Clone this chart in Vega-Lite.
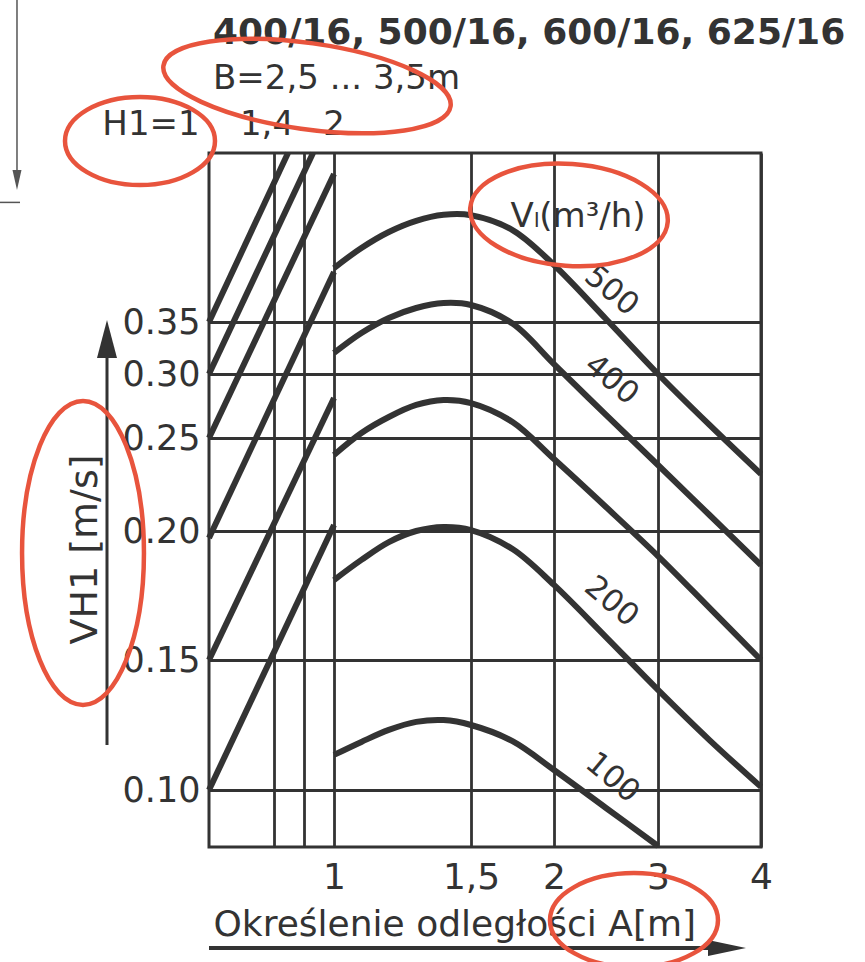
{
  "$schema": "https://vega.github.io/schema/vega-lite/v6.json",
  "width": 552,
  "height": 694,
  "autosize": {"type": "none"},
  "padding": {"left": 209, "top": 153, "right": 104, "bottom": 115},
  "background": "#ffffff",
  "config": {
    "font": "DejaVu Sans",
    "view": {"stroke": "#333333", "strokeWidth": 3},
    "axis": {"domain": false, "ticks": false, "tickSize": 0, "grid": true, "gridColor": "#333333", "gridWidth": 2.8, "gridOpacity": 1, "labelColor": "#333333", "titleColor": "#333333", "titleFontWeight": "normal", "labelFlush": false, "labelOverlap": false}
  },
  "datasets": {
    "curves": [
      {"Vl": 500, "A": 1, "V": 0.4045}, {"Vl": 500, "A": 1.1, "V": 0.4273}, {"Vl": 500, "A": 1.2, "V": 0.4455}, {"Vl": 500, "A": 1.3, "V": 0.459}, {"Vl": 500, "A": 1.4, "V": 0.4665}, {"Vl": 500, "A": 1.5, "V": 0.466}, {"Vl": 500, "A": 1.75, "V": 0.4477}, {"Vl": 500, "A": 2, "V": 0.408}, {"Vl": 500, "A": 2.5, "V": 0.353}, {"Vl": 500, "A": 3, "V": 0.30}, {"Vl": 500, "A": 3.5, "V": 0.2602}, {"Vl": 500, "A": 4, "V": 0.2306},
      {"Vl": 400, "A": 1, "V": 0.3202}, {"Vl": 400, "A": 1.1, "V": 0.3394}, {"Vl": 400, "A": 1.2, "V": 0.354}, {"Vl": 400, "A": 1.3, "V": 0.364}, {"Vl": 400, "A": 1.4, "V": 0.369}, {"Vl": 400, "A": 1.5, "V": 0.367}, {"Vl": 400, "A": 1.75, "V": 0.3485}, {"Vl": 400, "A": 2, "V": 0.3095}, {"Vl": 400, "A": 2.5, "V": 0.268}, {"Vl": 400, "A": 3, "V": 0.2355}, {"Vl": 400, "A": 3.5, "V": 0.2086}, {"Vl": 400, "A": 4, "V": 0.1868},
      {"Vl": 300, "A": 1, "V": 0.2409}, {"Vl": 300, "A": 1.1, "V": 0.2539}, {"Vl": 300, "A": 1.2, "V": 0.2664}, {"Vl": 300, "A": 1.3, "V": 0.2758}, {"Vl": 300, "A": 1.4, "V": 0.2797}, {"Vl": 300, "A": 1.5, "V": 0.2773}, {"Vl": 300, "A": 1.75, "V": 0.2625}, {"Vl": 300, "A": 2, "V": 0.2387}, {"Vl": 300, "A": 2.5, "V": 0.2129}, {"Vl": 300, "A": 3, "V": 0.1903}, {"Vl": 300, "A": 3.5, "V": 0.1702}, {"Vl": 300, "A": 4, "V": 0.15},
      {"Vl": 200, "A": 1, "V": 0.181}, {"Vl": 200, "A": 1.1, "V": 0.1888}, {"Vl": 200, "A": 1.2, "V": 0.1957}, {"Vl": 200, "A": 1.3, "V": 0.20}, {"Vl": 200, "A": 1.4, "V": 0.2022}, {"Vl": 200, "A": 1.5, "V": 0.2005}, {"Vl": 200, "A": 1.75, "V": 0.193}, {"Vl": 200, "A": 2, "V": 0.1791}, {"Vl": 200, "A": 2.5, "V": 0.1589}, {"Vl": 200, "A": 3, "V": 0.1385}, {"Vl": 200, "A": 3.5, "V": 0.1192}, {"Vl": 200, "A": 4, "V": 0.1012},
      {"Vl": 100, "A": 1, "V": 0.1135}, {"Vl": 100, "A": 1.1, "V": 0.1185}, {"Vl": 100, "A": 1.2, "V": 0.1231}, {"Vl": 100, "A": 1.3, "V": 0.1262}, {"Vl": 100, "A": 1.4, "V": 0.1269}, {"Vl": 100, "A": 1.5, "V": 0.125}, {"Vl": 100, "A": 1.75, "V": 0.1188}, {"Vl": 100, "A": 2, "V": 0.1077}, {"Vl": 100, "A": 2.5, "V": 0.0931}, {"Vl": 100, "A": 3, "V": 0.0785}
    ],
    "diagonals": [
      {"line": 1, "A": 0.5, "V": 0.10}, {"line": 1, "A": 1, "V": 0.2032},
      {"line": 2, "A": 0.5, "V": 0.15}, {"line": 2, "A": 1, "V": 0.2813},
      {"line": 3, "A": 0.5, "V": 0.1973}, {"line": 3, "A": 1, "V": 0.40},
      {"line": 4, "A": 0.5, "V": 0.25}, {"line": 4, "A": 1, "V": 0.52},
      {"line": 5, "A": 0.5, "V": 0.30}, {"line": 5, "A": 0.9125, "V": 0.55},
      {"line": 6, "A": 0.5, "V": 0.35}, {"line": 6, "A": 0.8083, "V": 0.55}
    ],
    "curveLabels": [
      {"Vl": 500, "A": 2.55, "V": 0.381},
      {"Vl": 400, "A": 2.55, "V": 0.2953},
      {"Vl": 200, "A": 2.55, "V": 0.1725},
      {"Vl": 100, "A": 2.56, "V": 0.1046}
    ],
    "heading": [{"A": 0.5154, "V": 0.7057, "text": "400/16, 500/16, 600/16, 625/16"}],
    "subheading": [{"A": 0.5154, "V": 0.6414, "text": "B=2,5 ... 3,5m"}],
    "h1Labels": [
      {"A": 0.277, "V": 0.5757, "text": "H1=1"},
      {"A": 0.723, "V": 0.5757, "text": "1,4"},
      {"A": 1.0, "V": 0.5757, "text": "2"}
    ],
    "vlLabel": [{"A": 2.231, "V": 0.4638, "text": "Vₗ(m³/h)"}],
    "yArrow": [{"A": 0.1077, "V": 0.1173, "V2": 0.3279}],
    "yHead": [{"A": 0.1077, "V": 0.3337}],
    "xArrow": [{"A": 0.5, "A2": 3.524, "V": 0.0393}],
    "xHead": [{"A": 3.67, "V": 0.0393}],
    "edgeLine": [{"A": -0.2385, "V": 0.7686, "V2": 0.5143}],
    "edgeHead": [{"A": -0.2385, "V": 0.5114}],
    "edgeTick": [{"A": -0.3038, "A2": -0.2269, "V": 0.482}],
    "callouts": [
      {"id": "B", "A": 0.8875, "V": 0.6457},
      {"id": "H1", "A": 0.2346, "V": 0.5671},
      {"id": "Vl", "A": 2.144, "V": 0.4663},
      {"id": "VH1", "A": 0.0154, "V": 0.1915},
      {"id": "Am", "A": 2.769, "V": 0.050}
    ]
  },
  "encoding": {
    "x": {
      "field": "A", "type": "quantitative",
      "scale": {"type": "linear", "domain": [0.5, 0.75, 0.875, 1, 1.5, 2, 3, 4], "range": [0, 65, 95, 125, 262, 345, 449, 552], "nice": false, "zero": false},
      "axis": {
        "values": [0.75, 0.875, 1, 1.5, 2, 3, 4],
        "format": "~g",
        "labelExpr": "datum.value < 1 ? '' : replace(datum.label, '.', ',')",
        "labelFontSize": 36, "labelPadding": 13,
        "title": "Określenie odległości A[m]", "titleFontSize": 36,
        "titleAnchor": "start", "titleAlign": "left", "titleX": 4, "titleY": 88, "titleBaseline": "alphabetic"
      }
    },
    "y": {
      "field": "V", "type": "quantitative",
      "scale": {"type": "linear", "domain": [0.0781, 0.10, 0.15, 0.20, 0.25, 0.30, 0.35, 0.40, 0.45, 0.50, 0.55], "range": [694, 637, 507, 378, 285, 221, 169, 119, 75, 35, 0], "nice": false, "zero": false},
      "axis": {
        "values": [0.10, 0.15, 0.20, 0.25, 0.30, 0.35],
        "format": ".2f",
        "labelFontSize": 35, "labelPadding": 9,
        "title": "VH1 [m/s]", "titleFontSize": 38,
        "titleAngle": -90, "titleAlign": "center", "titleBaseline": "alphabetic", "titleX": -113, "titleY": 396
      }
    }
  },
  "layer": [
    {
      "data": {"name": "curves"},
      "mark": {"type": "line", "interpolate": "catmull-rom", "color": "#333333", "strokeWidth": 6, "strokeCap": "butt"},
      "encoding": {"detail": {"field": "Vl", "type": "nominal"}}
    },
    {
      "data": {"name": "diagonals"},
      "mark": {"type": "line", "color": "#333333", "strokeWidth": 6, "strokeCap": "butt"},
      "encoding": {"detail": {"field": "line", "type": "nominal"}}
    },
    {
      "data": {"name": "curveLabels"},
      "mark": {"type": "text", "angle": 40, "fontSize": 31, "color": "#333333", "align": "center", "baseline": "middle"},
      "encoding": {"text": {"field": "Vl", "type": "nominal"}}
    },
    {
      "data": {"name": "heading"},
      "mark": {"type": "text", "fontSize": 36, "fontWeight": "bold", "color": "#333333", "align": "left", "baseline": "alphabetic"},
      "encoding": {"text": {"field": "text", "type": "nominal"}}
    },
    {
      "data": {"name": "subheading"},
      "mark": {"type": "text", "fontSize": 34, "color": "#333333", "align": "left", "baseline": "alphabetic"},
      "encoding": {"text": {"field": "text", "type": "nominal"}}
    },
    {
      "data": {"name": "h1Labels"},
      "mark": {"type": "text", "fontSize": 34, "color": "#333333", "align": "center", "baseline": "alphabetic"},
      "encoding": {"text": {"field": "text", "type": "nominal"}}
    },
    {
      "data": {"name": "vlLabel"},
      "mark": {"type": "text", "fontSize": 34, "color": "#333333", "align": "center", "baseline": "middle"},
      "encoding": {"text": {"field": "text", "type": "nominal"}}
    },
    {
      "data": {"name": "yArrow"},
      "mark": {"type": "rule", "color": "#333333", "strokeWidth": 3},
      "encoding": {"y2": {"field": "V2"}}
    },
    {
      "data": {"name": "yHead"},
      "mark": {"type": "point", "shape": "M0,-1L0.526,1L-0.526,1Z", "size": 1444, "filled": true, "opacity": 1, "color": "#333333", "strokeWidth": 0}
    },
    {
      "data": {"name": "xArrow"},
      "mark": {"type": "rule", "color": "#333333", "strokeWidth": 4},
      "encoding": {"x2": {"field": "A2"}}
    },
    {
      "data": {"name": "xHead"},
      "mark": {"type": "point", "shape": "M1,0L-1,0.42L-1,-0.42Z", "size": 1444, "filled": true, "opacity": 1, "color": "#333333", "strokeWidth": 0}
    },
    {
      "data": {"name": "edgeLine"},
      "mark": {"type": "rule", "color": "#555555", "strokeWidth": 1.5},
      "encoding": {"y2": {"field": "V2"}}
    },
    {
      "data": {"name": "edgeHead"},
      "mark": {"type": "point", "shape": "M0,1L-0.45,-1L0.45,-1Z", "size": 400, "filled": true, "opacity": 1, "color": "#555555", "strokeWidth": 0}
    },
    {
      "data": {"name": "edgeTick"},
      "mark": {"type": "rule", "color": "#555555", "strokeWidth": 1.5},
      "encoding": {"x2": {"field": "A2"}}
    },
    {
      "data": {"name": "callouts"},
      "transform": [{"filter": "datum.id === 'B'"}],
      "mark": {"type": "point", "shape": "M-1,0A1,0.297 0 1,0 1,0A1,0.297 0 1,0 -1,0Z", "size": 84100, "angle": 8, "filled": false, "opacity": 1, "color": "#e8543d", "strokeWidth": 4.5}
    },
    {
      "data": {"name": "callouts"},
      "transform": [{"filter": "datum.id === 'H1'"}],
      "mark": {"type": "point", "shape": "M-1,0A1,0.587 0 1,0 1,0A1,0.587 0 1,0 -1,0Z", "size": 22500, "filled": false, "opacity": 1, "color": "#e8543d", "strokeWidth": 4.5}
    },
    {
      "data": {"name": "callouts"},
      "transform": [{"filter": "datum.id === 'Vl'"}],
      "mark": {"type": "point", "shape": "M-1,0A1,0.515 0 1,0 1,0A1,0.515 0 1,0 -1,0Z", "size": 39204, "angle": 4, "filled": false, "opacity": 1, "color": "#e8543d", "strokeWidth": 4.5}
    },
    {
      "data": {"name": "callouts"},
      "transform": [{"filter": "datum.id === 'VH1'"}],
      "mark": {"type": "point", "shape": "M0,-1A0.401,1 0 1,0 0,1A0.401,1 0 1,0 0,-1Z", "size": 92416, "filled": false, "opacity": 1, "color": "#e8543d", "strokeWidth": 4.5}
    },
    {
      "data": {"name": "callouts"},
      "transform": [{"filter": "datum.id === 'Am'"}],
      "mark": {"type": "point", "shape": "M-1,0A1,0.56 0 1,0 1,0A1,0.56 0 1,0 -1,0Z", "size": 28224, "filled": false, "opacity": 1, "color": "#e8543d", "strokeWidth": 4.5}
    }
  ]
}
